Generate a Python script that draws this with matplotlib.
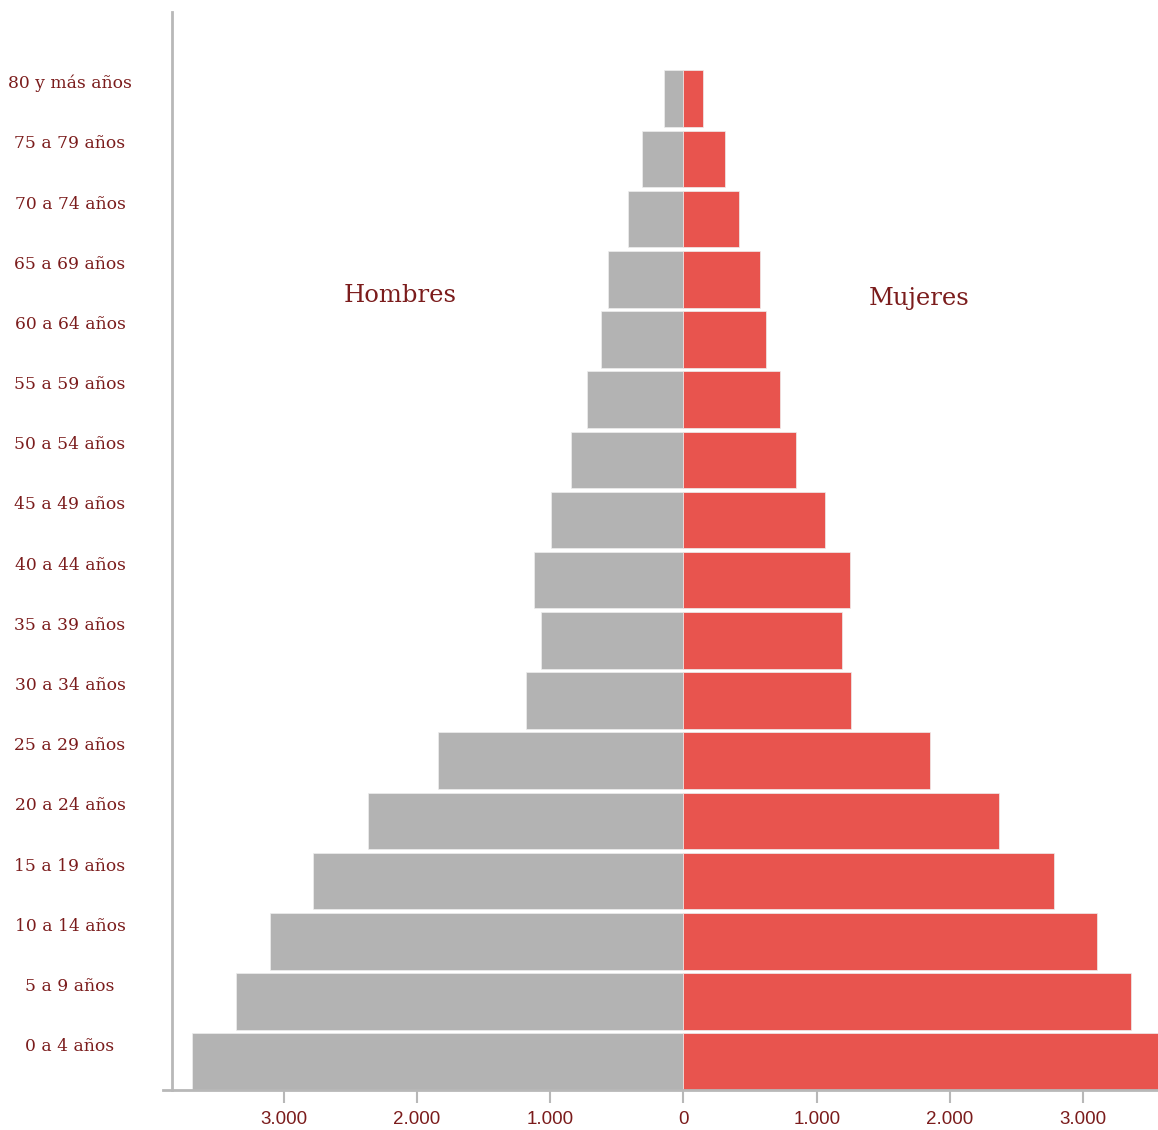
import matplotlib
matplotlib.use("Agg")
import matplotlib.pyplot as plt
import matplotlib.transforms as mtransforms

age_groups = ["0 a 4 años", "5 a 9 años", "10 a 14 años", "15 a 19 años", "20 a 24 años",
              "25 a 29 años", "30 a 34 años", "35 a 39 años", "40 a 44 años", "45 a 49 años",
              "50 a 54 años", "55 a 59 años", "60 a 64 años", "65 a 69 años", "70 a 74 años",
              "75 a 79 años", "80 y más años"]
hombres = [3684, 3361, 3105, 2782, 2368, 1842, 1180, 1068, 1120, 992,
           842, 722, 617, 564, 414, 308, 143]
mujeres = [3684, 3361, 3105, 2782, 2368, 1850, 1256, 1188, 1248, 1060,
           842, 722, 617, 571, 414, 308, 143]
tick_values = [-3000, -2000, -1000, 0, 1000, 2000, 3000]
tick_labels = ["3.000", "2.000", "1.000", "0", "1.000", "2.000", "3.000"]

W, H = 1158, 1130
fig = plt.figure(figsize=(W / 100, H / 100), dpi=100)
ax_left_px, ax_right_px = 163, 1158
ax_bottom_px, ax_top_px = 1090, 12
ax = fig.add_axes([ax_left_px / W, (H - ax_bottom_px) / H,
                   (ax_right_px - ax_left_px) / W, (ax_bottom_px - ax_top_px) / H])

grey = "#b3b3b3"
red = "#e8544e"
txt = "#7b1c1c"
axis_c = "#b8b8b8"

ys = list(range(len(age_groups)))
ax.barh(ys, [-v for v in hombres], height=0.94, color=grey, edgecolor="#eeeeee", linewidth=0.5)
ax.barh(ys, mujeres, height=0.94, color=red, edgecolor="#eeeeee", linewidth=0.5)

ax.set_xlim(-3905, 3560)
ax.set_ylim(-0.47, 17.44)

for s in ["top", "right"]:
    ax.spines[s].set_visible(False)
ax.spines["left"].set_position(("data", -3836))
ax.spines["left"].set_color(axis_c)
ax.spines["left"].set_linewidth(2)
ax.spines["bottom"].set_color(axis_c)
ax.spines["bottom"].set_linewidth(2)

ax.set_yticks([])
ax.set_xticks(tick_values)
ax.set_xticklabels(tick_labels, fontfamily="Liberation Sans", fontsize=13.5, color=txt)
ax.tick_params(axis="x", length=9, width=1.5, color=axis_c, pad=6)

trans = mtransforms.blended_transform_factory(fig.transFigure, ax.transData)
for y, lab in zip(ys, age_groups):
    ax.text(70 / W, y + 0.25, lab, transform=trans, ha="center", va="center",
            fontfamily="DejaVu Serif", fontsize=12.3, color=txt)

ax.text(400 / W, 1 - 295 / H, "Hombres", transform=fig.transFigure, ha="center", va="center",
        fontfamily="DejaVu Serif", fontsize=17.5, color=txt)
ax.text(919 / W, 1 - 298 / H, "Mujeres", transform=fig.transFigure, ha="center", va="center",
        fontfamily="DejaVu Serif", fontsize=17.5, color=txt)

fig.savefig("out.png", dpi=100)
